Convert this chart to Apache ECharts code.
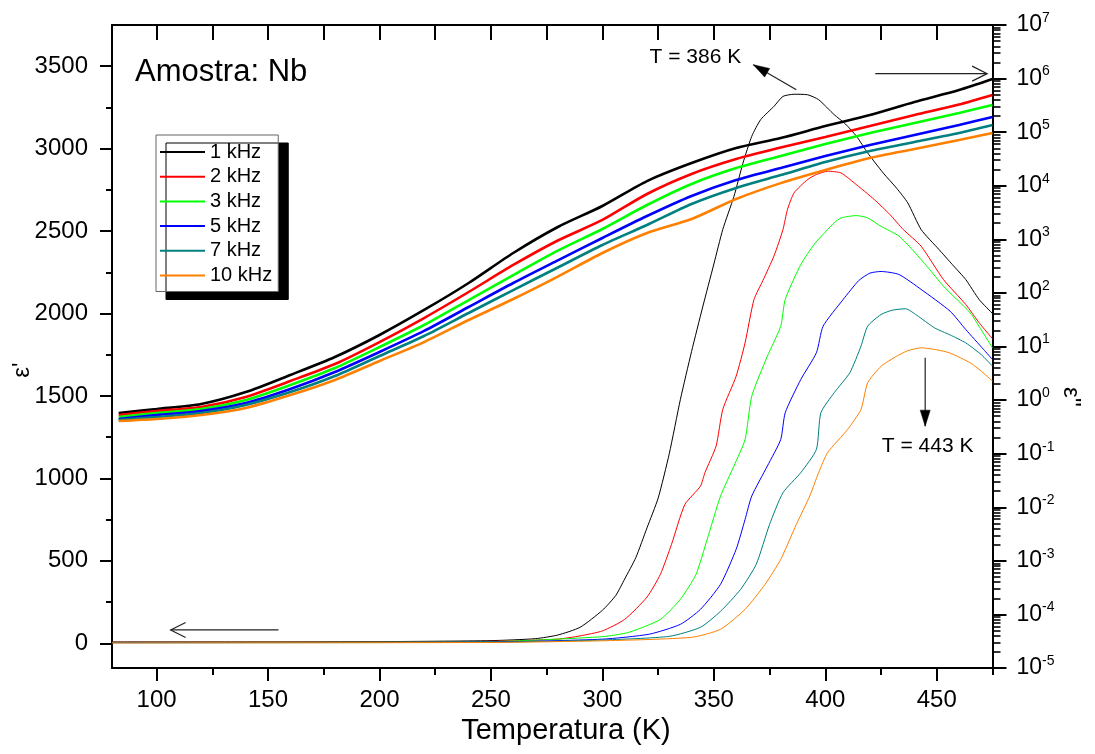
<!DOCTYPE html>
<html>
<head>
<meta charset="utf-8">
<script src="https://cdn.jsdelivr.net/npm/echarts@6/dist/echarts.min.js"></script>
<style>
  html, body { margin: 0; padding: 0; background: #ffffff; }
  #chart { width: 1095px; height: 754px; }
</style>
</head>
<body>
<div id="chart"></div>
<script>
// Measuring frequencies and their line colours
const frequencies = ['1 kHz', '2 kHz', '3 kHz', '5 kHz', '7 kHz', '10 kHz'];
const colors = ['#000000', '#ff0000', '#00ff00', '#0000ff', '#008080', '#ff8000'];

// ε'' (loss, right log axis) on a common temperature grid (K)
const tempLoss = [83, 100, 120, 140, 160, 180, 200, 220, 240, 260, 280, 300, 320, 340, 360, 380, 400, 420, 440, 460, 475];
const loss1k  = [0.574, 0.681, 0.844, 1.41, 2.94, 6.37, 16.4, 48.0, 153, 556, 1700, 4190, 12200, 26500, 50600, 77800, 130000, 209000, 366000, 612000, 982000];
const loss2k  = [0.526, 0.625, 0.742, 1.14, 2.27, 4.71, 12.1, 34.0, 104, 332, 950, 2300, 7020, 16600, 31500, 51700, 81300, 130000, 209000, 328000, 494000];
const loss3k  = [0.483, 0.574, 0.681, 1.00, 1.91, 3.96, 9.77, 25.2, 73.6, 215, 615, 1560, 4370, 10800, 21400, 35900, 60100, 96400, 148000, 228000, 321000];
const loss5k  = [0.443, 0.526, 0.625, 0.881, 1.61, 3.34, 7.89, 19.5, 54.6, 153, 405, 1060, 2720, 6440, 12800, 21400, 35900, 57500, 88500, 136000, 192000];
const loss7k  = [0.425, 0.483, 0.574, 0.809, 1.41, 2.81, 6.64, 15.7, 42.2, 113, 298, 783, 1850, 4560, 9080, 15800, 27700, 44500, 65500, 96400, 136000];
const loss10k = [0.406, 0.443, 0.526, 0.711, 1.24, 2.37, 5.36, 12.1, 31.2, 77, 202, 556, 1310, 2390, 5660, 11200, 19700, 33000, 48500, 71400, 96400];

// ε' (permittivity, left axis) as [T (K), ε'] pairs
const perm1k = [[80,8],[150,8],[200,10],[250,16],[270,28],[280,50],[290,97],[300,200],[306,290],[310,390],[315,520],[320,700],[325,880],[330,1150],[335,1480],[340,1770],[345,2040],[350,2300],[354,2510],[359,2710],[363,2910],[367,3075],[371,3176],[377,3257],[381,3317],[386,3330],[392,3327],[397,3297],[404,3206],[409,3150],[414,3075],[419,2974],[426,2852],[432,2760],[437,2671],[443,2509],[451,2388],[457,2297],[463,2206],[469,2085],[475,2000]];
const perm2k = [[80,6],[200,8],[250,12],[280,25],[290,45],[300,75],[310,145],[320,280],[326,418],[331,600],[337,842],[344,953],[346,1035],[351,1196],[354,1418],[360,1620],[364,1822],[368,2085],[372,2200],[377,2350],[381,2509],[383,2630],[386,2732],[392,2812],[396,2843],[401,2863],[407,2853],[413,2792],[422,2691],[429,2600],[435,2509],[443,2408],[453,2206],[463,2055],[469,1944],[475,1847]];
const perm3k = [[80,5],[250,10],[300,40],[312,67],[326,145],[335,267],[342,418],[347,630],[353,893],[359,1075],[364,1236],[367,1499],[374,1741],[380,1923],[382,2085],[389,2297],[395,2420],[401,2509],[404,2550],[407,2580],[414,2594],[419,2580],[425,2529],[433,2470],[439,2388],[446,2280],[453,2166],[465,2004],[470,1900],[475,1792]];
const perm5k = [[80,4],[250,8],[300,25],[321,55],[335,115],[344,206],[353,358],[360,570],[364,751],[367,893],[374,1075],[380,1236],[382,1398],[389,1600],[396,1762],[399,1923],[408,2085],[415,2200],[420,2245],[425,2255],[433,2237],[443,2146],[456,2014],[463,1903],[471,1782],[475,1721]];
const perm7k = [[80,3],[250,6],[300,20],[330,42],[344,97],[353,194],[362,327],[369,479],[375,721],[381,913],[389,1035],[396,1176],[398,1398],[404,1520],[411,1641],[416,1802],[419,1923],[425,1994],[430,2020],[436,2029],[441,1990],[449,1913],[456,1870],[463,1822],[470,1750],[475,1681]];
const perm10k = [[80,2],[250,5],[300,15],[340,36],[353,85],[364,206],[373,358],[380,509],[387,721],[393,893],[397,1035],[401,1156],[410,1297],[416,1418],[419,1580],[425,1680],[432,1741],[437,1775],[443,1792],[450,1780],[456,1760],[465,1701],[470,1650],[475,1590]];

// Axis tick labels
const tempTicks = [100, 150, 200, 250, 300, 350, 400, 450];
const tempMinorTicks = [125, 175, 225, 275, 325, 375, 425, 475];
const permTicks = [0, 500, 1000, 1500, 2000, 2500, 3000, 3500];
const permMinorTicks = [250, 750, 1250, 1750, 2250, 2750, 3250];
const lossDecades = [1e-5, 1e-4, 1e-3, 1e-2, 1e-1, 1, 10, 1e2, 1e3, 1e4, 1e5, 1e6, 1e7];

// Peak annotations (positions in T / ε' units)
const peakNotes = [
  { text: 'T = 386 K', label: [341.7, 3552], tail: [387, 3357], head: [367.7, 3509] },
  { text: 'T = 443 K', label: [445.9, 1196], tail: [444.8, 1732], head: [444.8, 1317] }
];
// Arrows telling which axis each family belongs to
const axisArrows = [
  { tail: [422.4, 3455], head: [472.6, 3455] },
  { tail: [154.7, 81], head: [106.3, 81] }
];

const lossSets = [loss1k, loss2k, loss3k, loss5k, loss7k, loss10k];
const permSets = [perm1k, perm2k, perm3k, perm5k, perm7k, perm10k];

const FONT = '"Liberation Sans", Arial, Helvetica, sans-serif';

const logMinor = [];
for (let e = -5; e < 7; e++) {
  for (let k = 2; k <= 9; k++) logMinor.push(k * Math.pow(10, e));
}
const tempTopTicks = tempTicks.concat(tempMinorTicks).sort((a, b) => a - b);

const axisColor = '#000000';
const series = [];
permSets.forEach((set, i) => {
  series.push({
    name: frequencies[i], type: 'line', xAxisIndex: 0, yAxisIndex: 0,
    data: set, showSymbol: false, symbol: 'none', smooth: 0.2,
    lineStyle: { color: colors[i], width: 1 }, itemStyle: { color: colors[i] },
    z: 2
  });
});
lossSets.forEach((set, i) => {
  series.push({
    name: frequencies[i], type: 'line', xAxisIndex: 0, yAxisIndex: 2,
    data: tempLoss.map((t, j) => [t, set[j]]), showSymbol: false, symbol: 'none', smooth: 0.25,
    lineStyle: { color: colors[i], width: 2.6 }, itemStyle: { color: colors[i] },
    z: 3
  });
});

const option = {
  animation: false,
  backgroundColor: '#ffffff',
  textStyle: { fontFamily: FONT },
  title: {
    text: 'Amostra: Nb', left: 135, top: 57, padding: 0,
    textStyle: { fontSize: 31, fontWeight: 'normal', color: '#000', fontFamily: FONT }
  },
  legend: {
    data: frequencies, orient: 'vertical', left: 156, top: 135,
    padding: [7, 6, 6, 4], itemWidth: 45, itemHeight: 2, itemGap: 4.7, icon: 'rect',
    textStyle: { fontSize: 20, color: '#000', fontFamily: FONT, lineHeight: 20 },
    backgroundColor: '#ffffff', borderColor: '#666666', borderWidth: 1,
    shadowColor: '#000000', shadowOffsetX: 10, shadowOffsetY: 8, shadowBlur: 0
  },
  grid: { left: 112, right: 102.5, top: 25, bottom: 86, containLabel: false, outerBoundsMode: 'none' },
  xAxis: [
    {
      type: 'value', min: 80, max: 475, position: 'bottom',
      axisLine: { show: true, onZero: false, lineStyle: { color: axisColor, width: 2 } },
      axisTick: { show: true, customValues: tempTicks, length: 13, lineStyle: { color: axisColor, width: 2 } },
      axisLabel: { show: true, customValues: tempTicks, fontSize: 24, color: '#000', margin: 20, fontFamily: FONT,
        formatter: v => String(v) },
      splitLine: { show: false }
    },
    {
      type: 'value', min: 80, max: 475, position: 'bottom',
      axisLine: { show: false, onZero: false },
      axisTick: { show: true, customValues: tempMinorTicks, length: 7, lineStyle: { color: axisColor, width: 2 } },
      axisLabel: { show: false }, splitLine: { show: false }
    },
    {
      type: 'value', min: 80, max: 475, position: 'top',
      axisLine: { show: true, onZero: false, lineStyle: { color: axisColor, width: 2 } },
      axisTick: { show: true, inside: true, customValues: tempTopTicks, length: 15, lineStyle: { color: axisColor, width: 2 } },
      axisLabel: { show: false }, splitLine: { show: false }
    }
  ],
  yAxis: [
    {
      type: 'value', min: -150, max: 3750, position: 'left',
      axisLine: { show: true, onZero: false, lineStyle: { color: axisColor, width: 2 } },
      axisTick: { show: true, customValues: permTicks, length: 12, lineStyle: { color: axisColor, width: 2 } },
      axisLabel: { show: true, customValues: permTicks, fontSize: 24, color: '#000', margin: 24, fontFamily: FONT,
        formatter: v => String(v) },
      splitLine: { show: false }
    },
    {
      type: 'value', min: -150, max: 3750, position: 'left',
      axisLine: { show: false, onZero: false },
      axisTick: { show: true, customValues: permMinorTicks, length: 6, lineStyle: { color: axisColor, width: 2 } },
      axisLabel: { show: false }, splitLine: { show: false }
    },
    {
      type: 'log', logBase: 10, min: 1e-5, max: 1e7, position: 'right',
      axisLine: { show: true, onZero: false, lineStyle: { color: axisColor, width: 2 } },
      axisTick: { show: true, customValues: lossDecades, length: 14, lineStyle: { color: axisColor, width: 2 } },
      axisLabel: {
        show: true, customValues: lossDecades, margin: 24, color: '#000', fontFamily: FONT,
        formatter: function (value) {
          const e = Math.round(Math.log10(value));
          return '{b|10}{s|' + e + '}';
        },
        rich: {
          b: { fontSize: 23, lineHeight: 28, color: '#000', fontFamily: FONT },
          s: { fontSize: 14, lineHeight: 14, verticalAlign: 'top', color: '#000', fontFamily: FONT }
        }
      },
      splitLine: { show: false }
    },
    {
      type: 'log', logBase: 10, min: 1e-5, max: 1e7, position: 'right',
      axisLine: { show: false, onZero: false },
      axisTick: { show: true, customValues: logMinor, length: 8, lineStyle: { color: axisColor, width: 1.6 } },
      axisLabel: { show: false }, splitLine: { show: false }
    }
  ],
  series: series
};

const chart = echarts.init(document.getElementById('chart'), null, { renderer: 'canvas' });
chart.setOption(option);

// Annotations and axis titles, positioned through the left/bottom coordinate system
const toPx = (p) => chart.convertToPixel({ xAxisIndex: 0, yAxisIndex: 0 }, p);

function headPoints(tip, from, len, half) {
  const dx = tip[0] - from[0], dy = tip[1] - from[1];
  const d = Math.hypot(dx, dy);
  const ux = dx / d, uy = dy / d;
  const bx = tip[0] - ux * len, by = tip[1] - uy * len;
  return [[bx - uy * half, by + ux * half], [tip[0], tip[1]], [bx + uy * half, by - ux * half]];
}

const graphics = [];
peakNotes.forEach(n => {
  const tail = toPx(n.tail), head = toPx(n.head), lab = toPx(n.label);
  graphics.push({ type: 'line', shape: { x1: tail[0], y1: tail[1], x2: head[0], y2: head[1] },
    style: { stroke: '#222', lineWidth: 1.2 }, z: 10 });
  graphics.push({ type: 'polygon', shape: { points: headPoints(head, tail, 16, 5) },
    style: { fill: '#000', stroke: '#000', lineWidth: 0.5 }, z: 10 });
  graphics.push({ type: 'text', x: lab[0], y: lab[1], z: 10,
    style: { text: n.text, fill: '#000', fontSize: 21, fontFamily: FONT, align: 'center', verticalAlign: 'middle', textAlign: 'center', textVerticalAlign: 'middle' } });
});
axisArrows.forEach(a => {
  const tail = toPx(a.tail), head = toPx(a.head);
  graphics.push({ type: 'line', shape: { x1: tail[0], y1: tail[1], x2: head[0], y2: head[1] },
    style: { stroke: '#222', lineWidth: 1.2 }, z: 10 });
  graphics.push({ type: 'polyline', shape: { points: headPoints(head, tail, 15, 7.5) },
    style: { stroke: '#222', lineWidth: 1.2, fill: null }, z: 10 });
});

// Axis titles
graphics.push({ type: 'text', x: 566, y: 731, z: 10,
  style: { text: 'Temperatura (K)', fill: '#000', fontSize: 29, fontFamily: FONT, align: 'center', verticalAlign: 'middle', textAlign: 'center', textVerticalAlign: 'middle' } });
graphics.push({ type: 'text', x: 22, y: 370, rotation: Math.PI / 2, z: 10,
  style: { text: "\u03b5'", fill: '#000', fontSize: 24, fontFamily: FONT, align: 'center', verticalAlign: 'middle', textAlign: 'center', textVerticalAlign: 'middle' } });
graphics.push({ type: 'text', x: 1071, y: 397, rotation: -Math.PI / 2, z: 10,
  style: { text: "\u03b5''", fill: '#000', fontSize: 24, fontFamily: FONT, align: 'center', verticalAlign: 'middle', textAlign: 'center', textVerticalAlign: 'middle' } });

chart.setOption({ graphic: { elements: graphics } });
</script>
</body>
</html>
